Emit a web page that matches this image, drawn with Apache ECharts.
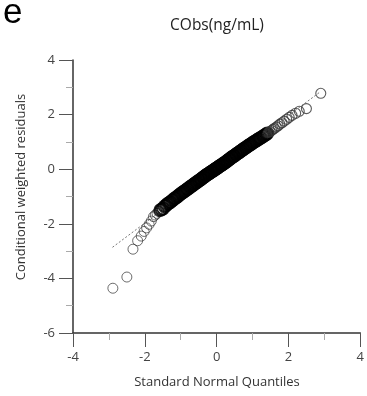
<!DOCTYPE html>
<html>
<head>
<meta charset="utf-8">
<script src="https://cdn.jsdelivr.net/npm/echarts@6/dist/echarts.min.js"></script>
<style>html,body{margin:0;padding:0;background:#fff;}#c{width:367px;height:396px;}</style>
</head>
<body>
<div id="c"></div>
<script>
const panelLabel = 'e';
const chartTitle = 'CObs(ng/mL)';
const xAxisName = 'Standard Normal Quantiles';
const yAxisName = 'Conditional weighted residuals';
const xTicks = [-4, -2, 0, 2, 4];
const yTicks = [-6, -4, -2, 0, 2, 4];
// [standard normal quantile, conditional weighted residual]
const lowerTail = [
[-2.89,-4.36],[-2.5,-3.95],[-2.33,-2.93],[-2.2,-2.62],[-2.1,-2.45],[-2.02,-2.28],[-1.95,-2.15],[-1.88,-2.02],[-1.82,-1.9],[-1.76,-1.74],
[-1.71,-1.68],[-1.66,-1.62],[-1.61,-1.55]
];
const core = [
[-1.57,-1.5],[-1.53,-1.47],[-1.49,-1.44],[-1.45,-1.36],[-1.41,-1.33],[-1.38,-1.28],[-1.34,-1.25],
[-1.31,-1.22],[-1.28,-1.2],[-1.24,-1.15],[-1.21,-1.12],[-1.18,-1.08],[-1.15,-1.06],[-1.12,-1.03],[-1.09,-1.0],[-1.06,-0.97],[-1.03,-0.93],
[-1.0,-0.9],[-0.97,-0.88],[-0.94,-0.85],[-0.92,-0.82],[-0.89,-0.8],[-0.86,-0.78],[-0.83,-0.74],[-0.81,-0.72],[-0.78,-0.7],[-0.75,-0.67],
[-0.73,-0.64],[-0.7,-0.62],[-0.68,-0.6],[-0.65,-0.57],[-0.63,-0.55],[-0.6,-0.52],[-0.58,-0.5],[-0.55,-0.48],[-0.53,-0.45],[-0.5,-0.43],
[-0.48,-0.41],[-0.45,-0.38],[-0.43,-0.36],[-0.41,-0.34],[-0.38,-0.31],[-0.36,-0.29],[-0.34,-0.27],[-0.31,-0.24],[-0.29,-0.22],[-0.27,-0.2],
[-0.24,-0.18],[-0.22,-0.16],[-0.2,-0.14],[-0.17,-0.12],[-0.15,-0.1],[-0.13,-0.08],[-0.11,-0.06],[-0.08,-0.04],[-0.06,-0.02],[-0.04,0.0],
[-0.02,0.02],[0.0,0.03],[0.02,0.05],[0.04,0.07],[0.06,0.09],[0.08,0.11],[0.11,0.13],[0.13,0.15],[0.15,0.17],[0.17,0.19],
[0.2,0.21],[0.22,0.23],[0.24,0.25],[0.27,0.28],[0.29,0.3],[0.31,0.32],[0.34,0.35],[0.36,0.37],[0.38,0.39],[0.41,0.42],
[0.43,0.44],[0.45,0.46],[0.48,0.48],[0.5,0.5],[0.53,0.53],[0.55,0.55],[0.58,0.58],[0.6,0.6],[0.63,0.62],[0.65,0.64],
[0.68,0.67],[0.7,0.69],[0.73,0.72],[0.75,0.74],[0.78,0.76],[0.81,0.79],[0.83,0.81],[0.86,0.84],[0.89,0.86],[0.92,0.89],
[0.94,0.91],[0.97,0.93],[1.0,0.96],[1.03,0.99],[1.06,1.01],[1.09,1.04],[1.12,1.06],[1.15,1.09],[1.18,1.11],[1.21,1.14],
[1.24,1.16],[1.28,1.19],[1.31,1.22],[1.34,1.25],[1.38,1.28],[1.41,1.31]
];
const upperTail = [
[1.45,1.35],[1.49,1.38],[1.53,1.42],[1.57,1.46],
[1.61,1.5],[1.66,1.54],[1.71,1.59],[1.76,1.65],[1.82,1.7],[1.88,1.76],[1.95,1.83],[2.02,1.9],[2.1,1.97],[2.2,2.05],
[2.3,2.12],[2.5,2.22],[2.9,2.78]
];
const refLine = [[-2.9,-2.86],[2.87,2.82]];

const chart = echarts.init(document.getElementById('c'), null, {renderer:'canvas'});
const font = '"Open Sans", "Noto Sans", sans-serif';
function axis(ticks){
  return {
    type:'value', interval:2, min:ticks[0], max:ticks[ticks.length-1],
    axisLine:{show:true, onZero:false, lineStyle:{color:'#333', width:1.5}},
    axisTick:{show:true, length:14, lineStyle:{color:'#555', width:1}},
    minorTick:{show:true, splitNumber:2, length:7, lineStyle:{color:'#aaa', width:1}},
    splitLine:{show:false},
    axisLabel:{color:'#444', fontSize:13, fontFamily:font, margin:18}
  };
}
const ring = (w, c) => ({color:'rgba(0,0,0,0)', borderColor:c, borderWidth:w});
chart.setOption({
  animation:false,
  backgroundColor:'#fff',
  grid:{left:73, right:6, top:60, bottom:63, containLabel:false},
  xAxis:axis(xTicks),
  yAxis:axis(yTicks),
  graphic:[
    {type:'text', left:3, top:-4, style:{text:panelLabel, fontSize:35, fontFamily:'"Liberation Sans", Arial, sans-serif', fill:'#000'}},
    {type:'text', x:217, y:26, style:{text:chartTitle, fontSize:15.5, fontFamily:font, fill:'#222', align:'center', verticalAlign:'middle'}},
    {type:'text', x:217, y:382, style:{text:xAxisName, fontSize:13, fontFamily:font, fill:'#333', align:'center', verticalAlign:'middle'}},
    {type:'text', x:21, y:187, rotation:Math.PI/2, style:{text:yAxisName, fontSize:13, fontFamily:font, fill:'#333', align:'center', verticalAlign:'middle'}}
  ],
  series:[
    {type:'line', data:refLine, symbol:'none', lineStyle:{color:'#777', width:1, type:[2,2]}, z:1},
    {type:'scatter', data:lowerTail, symbol:'circle', symbolSize:10, itemStyle:ring(0.9,'#333'), z:2},
    {type:'scatter', data:core, symbol:'circle', symbolSize:12, itemStyle:ring(1.8,'#000'), z:2},
    {type:'scatter', data:upperTail, symbol:'circle', symbolSize:10, itemStyle:ring(1.1,'#333'), z:2}
  ]
});
</script>
</body>
</html>
